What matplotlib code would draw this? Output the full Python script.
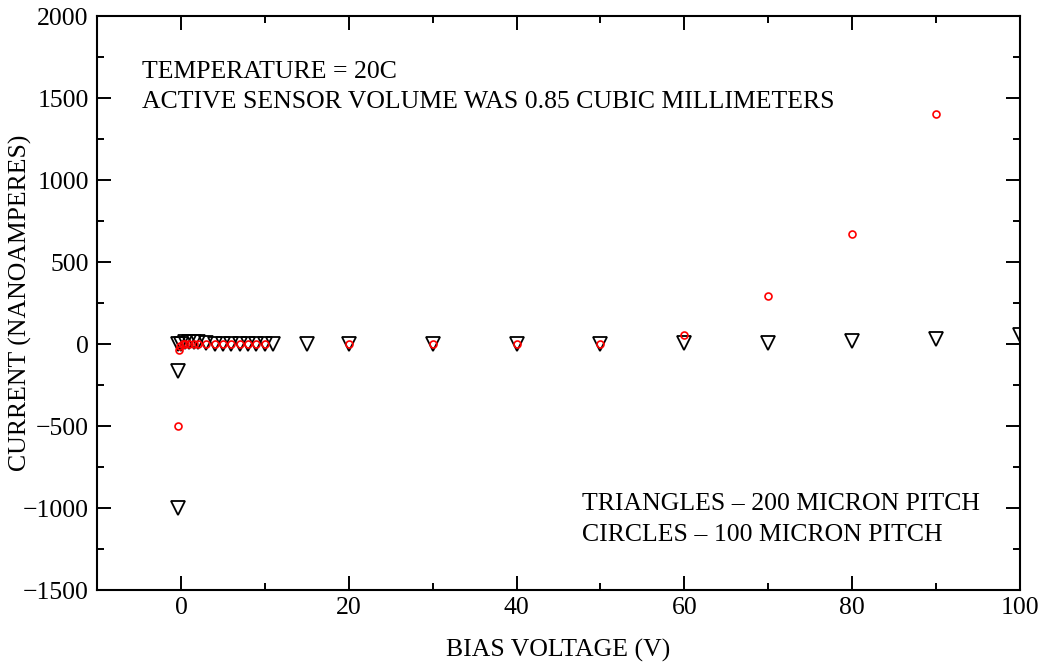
import matplotlib
matplotlib.use("Agg")
import matplotlib.pyplot as plt
from matplotlib.ticker import MultipleLocator

plt.rcParams['font.family'] = ['Liberation Serif', 'DejaVu Serif']
plt.rcParams['axes.unicode_minus'] = True

# 200 micron pitch sensor (triangles)
tri_v = [-0.3, -0.3, -0.3, 0, 0.5, 1, 1.5, 2, 3, 4, 5, 6, 7, 8, 9, 10, 11,
         15, 20, 30, 40, 50, 60, 70, 80, 90, 100]
tri_i = [-1000, -165, 0, 0, 15, 15, 15, 15, 8, 3, 3, 3, 3, 3, 3, 3, 3,
         3, 3, 3, 3, 3, 4, 6, 18, 30, 55]

# 100 micron pitch sensor (circles)
circ_v = [-0.3, -0.2, -0.1, 0.2, 0.5, 1, 1.5, 2, 3, 4, 5, 6, 7, 8, 9, 10,
          20, 30, 40, 50, 60, 70, 80, 90]
circ_i = [-500, -35, -15, 0, 2, 2, 2, 2, 2, 2, 2, 2, 2, 2, 2, 2,
          2, 2, 2, 2, 55, 290, 670, 1400]

FS = 18.5

fig = plt.figure(figsize=(10.48, 6.67), dpi=100)
ax = fig.add_axes([0.0926, 0.1154, 0.8807, 0.8606])

ax.plot(tri_v, tri_i, linestyle='none', marker='v', markersize=10,
        markerfacecolor='none', markeredgecolor='black', markeredgewidth=1.3)
ax.plot(circ_v, circ_i, linestyle='none', marker='o', markersize=5,
        markerfacecolor='none', markeredgecolor='red', markeredgewidth=1.2)

ax.set_xlim(-10, 100)
ax.set_ylim(-1500, 2000)
ax.xaxis.set_major_locator(MultipleLocator(20))
ax.xaxis.set_minor_locator(MultipleLocator(10))
ax.yaxis.set_major_locator(MultipleLocator(500))
ax.yaxis.set_minor_locator(MultipleLocator(250))
ax.tick_params(which='both', direction='in', top=True, right=True,
               width=1.4, labelsize=FS)
ax.tick_params(axis='x', pad=5)
ax.tick_params(axis='y', pad=6)
ax.tick_params(which='major', length=10)
ax.tick_params(which='minor', length=5)
for s in ax.spines.values():
    s.set_linewidth(1.5)

ax.set_xlabel('BIAS VOLTAGE (V)', fontsize=FS, va='center')
ax.set_ylabel('CURRENT (NANOAMPERES)', fontsize=FS, va='center')
ax.xaxis.set_label_coords(0.5, -0.1045)
ax.yaxis.set_label_coords(-0.0834, 0.5)

ax.text(-4.7, 1658, 'TEMPERATURE = 20C', fontsize=FS, va='center')
ax.text(-4.7, 1475, 'ACTIVE SENSOR VOLUME WAS 0.85 CUBIC MILLIMETERS',
        fontsize=FS, va='center')
ax.text(47.8, -975, 'TRIANGLES \u2013 200 MICRON PITCH', fontsize=FS, va='center')
ax.text(47.8, -1165, 'CIRCLES \u2013 100 MICRON PITCH', fontsize=FS, va='center')

fig.savefig('out.png', dpi=100)
